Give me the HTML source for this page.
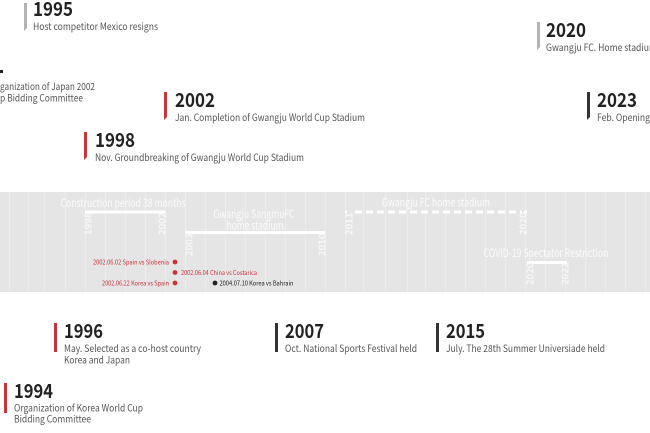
<!DOCTYPE html>
<html><head><meta charset="utf-8">
<style>
html,body{margin:0;padding:0;background:#fff;}
svg{display:block;}
text{font-family:"Noto Sans CJK KR","Liberation Sans",sans-serif;}
.yr{font-size:19.5px;font-weight:700;fill:#222;}
.ds{font-size:9.7px;fill:#555;}
.wl{font-size:11.5px;fill:#fbfbfb;}
.vy{font-size:9.5px;fill:#f7f7f7;font-weight:700;}
.dt{font-size:6.4px;}
</style></head>
<body>
<svg width="650" height="433" viewBox="0 0 650 433" xmlns="http://www.w3.org/2000/svg">
<rect x="0" y="0" width="650" height="433" fill="#fff"/>
<!-- band -->
<rect x="0" y="192" width="650" height="100" fill="#e5e5e5"/>
<g stroke="#ececec" stroke-width="1">
<line x1="9.5" y1="192" x2="9.5" y2="292"/><line x1="28.5" y1="192" x2="28.5" y2="292"/>
<line x1="44.5" y1="192" x2="44.5" y2="292"/><line x1="65.5" y1="192" x2="65.5" y2="292"/>
<line x1="85.5" y1="192" x2="85.5" y2="292"/><line x1="105.5" y1="192" x2="105.5" y2="292"/>
<line x1="125.5" y1="192" x2="125.5" y2="292"/><line x1="145.5" y1="192" x2="145.5" y2="292"/>
<line x1="165.5" y1="192" x2="165.5" y2="292"/><line x1="185.5" y1="192" x2="185.5" y2="292"/>
<line x1="205.5" y1="192" x2="205.5" y2="292"/><line x1="225.5" y1="192" x2="225.5" y2="292"/>
<line x1="245.5" y1="192" x2="245.5" y2="292"/><line x1="265.5" y1="192" x2="265.5" y2="292"/>
<line x1="285.5" y1="192" x2="285.5" y2="292"/><line x1="305.5" y1="192" x2="305.5" y2="292"/>
<line x1="325.5" y1="192" x2="325.5" y2="292"/><line x1="345.5" y1="192" x2="345.5" y2="292"/>
<line x1="363.5" y1="192" x2="363.5" y2="292"/><line x1="385.5" y1="192" x2="385.5" y2="292"/>
<line x1="407.5" y1="192" x2="407.5" y2="292"/><line x1="425.5" y1="192" x2="425.5" y2="292"/>
<line x1="445.5" y1="192" x2="445.5" y2="292"/><line x1="465.5" y1="192" x2="465.5" y2="292"/>
<line x1="485.5" y1="192" x2="485.5" y2="292"/><line x1="505.5" y1="192" x2="505.5" y2="292"/>
<line x1="525.5" y1="192" x2="525.5" y2="292"/><line x1="545.5" y1="192" x2="545.5" y2="292"/>
<line x1="565.5" y1="192" x2="565.5" y2="292"/><line x1="585.5" y1="192" x2="585.5" y2="292"/>
<line x1="605.5" y1="192" x2="605.5" y2="292"/><line x1="625.5" y1="192" x2="625.5" y2="292"/>
<line x1="645.5" y1="192" x2="645.5" y2="292"/>
</g>

<!-- construction period -->
<text class="wl" x="123" y="207" text-anchor="middle" textLength="125" lengthAdjust="spacingAndGlyphs">Construction period 38 months</text>
<rect x="85" y="210.5" width="80" height="3" fill="#fff"/>
<text class="vy" transform="translate(91.5,235) rotate(-90)">1998</text>
<text class="vy" transform="translate(165.5,235) rotate(-90)">2002</text>

<!-- Sangmu -->
<text class="wl" x="254" y="218" text-anchor="middle" textLength="81" lengthAdjust="spacingAndGlyphs">Gwangju SangmuFC</text>
<text class="wl" x="255" y="229.5" text-anchor="middle" textLength="57" lengthAdjust="spacingAndGlyphs">home stadium</text>
<rect x="185" y="231" width="140" height="3" fill="#fff"/>
<text class="vy" transform="translate(192.5,256) rotate(-90)">2003</text>
<text class="vy" transform="translate(325.5,256) rotate(-90)">2010</text>

<!-- Gwangju FC dashed -->
<text class="wl" x="436" y="206.5" text-anchor="middle" textLength="108" lengthAdjust="spacingAndGlyphs">Gwangju FC home stadium</text>
<line x1="345" y1="212" x2="527" y2="212" stroke="#fff" stroke-width="3" stroke-dasharray="2 8 7 4 7 4 7 4 7 4 7 4 7 4 7 4 7 4 7 4 7 4 7 4 7 4 7 4 7 4 7 4 2"/>
<text class="vy" transform="translate(352.5,235) rotate(-90)">2011</text>
<text class="vy" transform="translate(526.5,235) rotate(-90)">2020</text>

<!-- COVID -->
<text class="wl" x="546" y="257" text-anchor="middle" textLength="125" lengthAdjust="spacingAndGlyphs">COVID-19 Spectator Restriction</text>
<rect x="527" y="261" width="40" height="3" fill="#fff"/>
<text class="vy" transform="translate(533.5,285) rotate(-90)">2020</text>
<text class="vy" transform="translate(568.5,285) rotate(-90)">2022</text>

<!-- matches -->
<circle cx="175" cy="262" r="2.4" fill="#c8343a"/>
<circle cx="175" cy="272.5" r="2.4" fill="#c8343a"/>
<circle cx="175" cy="283" r="2.4" fill="#c8343a"/>
<circle cx="215" cy="283" r="2.4" fill="#222"/>
<text class="dt" x="169" y="264.3" text-anchor="end" fill="#c8343a" textLength="76" lengthAdjust="spacingAndGlyphs">2002.06.02 Spain vs Slobenia</text>
<text class="dt" x="181" y="274.8" fill="#c8343a" textLength="76" lengthAdjust="spacingAndGlyphs">2002.06.04 China vs Costarica</text>
<text class="dt" x="169" y="285.3" text-anchor="end" fill="#c8343a" textLength="67" lengthAdjust="spacingAndGlyphs">2002.06.22 Korea vs Spain</text>
<text class="dt" x="219.5" y="285.3" fill="#222" textLength="74" lengthAdjust="spacingAndGlyphs">2004.07.10 Korea vs Bahrain</text>

<!-- events top -->
<polygon points="24,3 27,3 27,28 24,31" fill="#b3b3b3"/>
<text class="yr" x="33" y="16" textLength="40" lengthAdjust="spacingAndGlyphs">1995</text>
<text class="ds" x="33" y="30" textLength="125" lengthAdjust="spacingAndGlyphs">Host competitor Mexico resigns</text>

<rect x="0" y="70" width="3" height="3" fill="#222"/>
<text class="ds" x="0" y="90" textLength="95" lengthAdjust="spacingAndGlyphs">ganization of Japan 2002</text>
<text class="ds" x="0" y="101.5" textLength="83" lengthAdjust="spacingAndGlyphs">p Bidding Committee</text>

<polygon points="164,92 167,92 167,117 164,120" fill="#c8343a"/>
<text class="yr" x="175" y="107" textLength="40" lengthAdjust="spacingAndGlyphs">2002</text>
<text class="ds" x="175" y="121" textLength="190" lengthAdjust="spacingAndGlyphs">Jan. Completion of Gwangju World Cup Stadium</text>

<polygon points="84,132 87,132 87,157 84,160" fill="#c8343a"/>
<text class="yr" x="95" y="147" textLength="40" lengthAdjust="spacingAndGlyphs">1998</text>
<text class="ds" x="95" y="161" textLength="209" lengthAdjust="spacingAndGlyphs">Nov. Groundbreaking of Gwangju World Cup Stadium</text>

<polygon points="537,22 540,22 540,47 537,50" fill="#b3b3b3"/>
<text class="yr" x="546" y="37" textLength="40" lengthAdjust="spacingAndGlyphs">2020</text>
<text class="ds" x="546" y="51" textLength="111" lengthAdjust="spacingAndGlyphs">Gwangju FC. Home stadium</text>

<polygon points="587,92 590,92 590,117 587,120" fill="#333"/>
<text class="yr" x="597" y="107" textLength="40" lengthAdjust="spacingAndGlyphs">2023</text>
<text class="ds" x="597" y="121" textLength="53" lengthAdjust="spacingAndGlyphs">Feb. Opening</text>

<!-- events bottom -->
<polygon points="54,323 57,323 57,352 54,352" fill="#c8343a"/>
<text class="yr" x="64" y="338" textLength="39" lengthAdjust="spacingAndGlyphs">1996</text>
<text class="ds" x="64" y="352" textLength="137" lengthAdjust="spacingAndGlyphs">May. Selected as a co-host country</text>
<text class="ds" x="64" y="363.5" textLength="66" lengthAdjust="spacingAndGlyphs">Korea and Japan</text>

<polygon points="4,383 7,383 7,413 4,413" fill="#c8343a"/>
<text class="yr" x="14" y="398" textLength="39" lengthAdjust="spacingAndGlyphs">1994</text>
<text class="ds" x="14" y="411.7" textLength="129" lengthAdjust="spacingAndGlyphs">Organization of Korea World Cup</text>
<text class="ds" x="14" y="422.7" textLength="77" lengthAdjust="spacingAndGlyphs">Bidding Committee</text>

<polygon points="275,323 278,323 278,352 275,352" fill="#333"/>
<text class="yr" x="285" y="338" textLength="39" lengthAdjust="spacingAndGlyphs">2007</text>
<text class="ds" x="285" y="352" textLength="132" lengthAdjust="spacingAndGlyphs">Oct. National Sports Festival held</text>

<polygon points="436,323 439,323 439,352 436,352" fill="#333"/>
<text class="yr" x="446" y="338" textLength="39" lengthAdjust="spacingAndGlyphs">2015</text>
<text class="ds" x="446" y="352" textLength="159" lengthAdjust="spacingAndGlyphs">July. The 28th Summer Universiade held</text>
</svg>
</body></html>
